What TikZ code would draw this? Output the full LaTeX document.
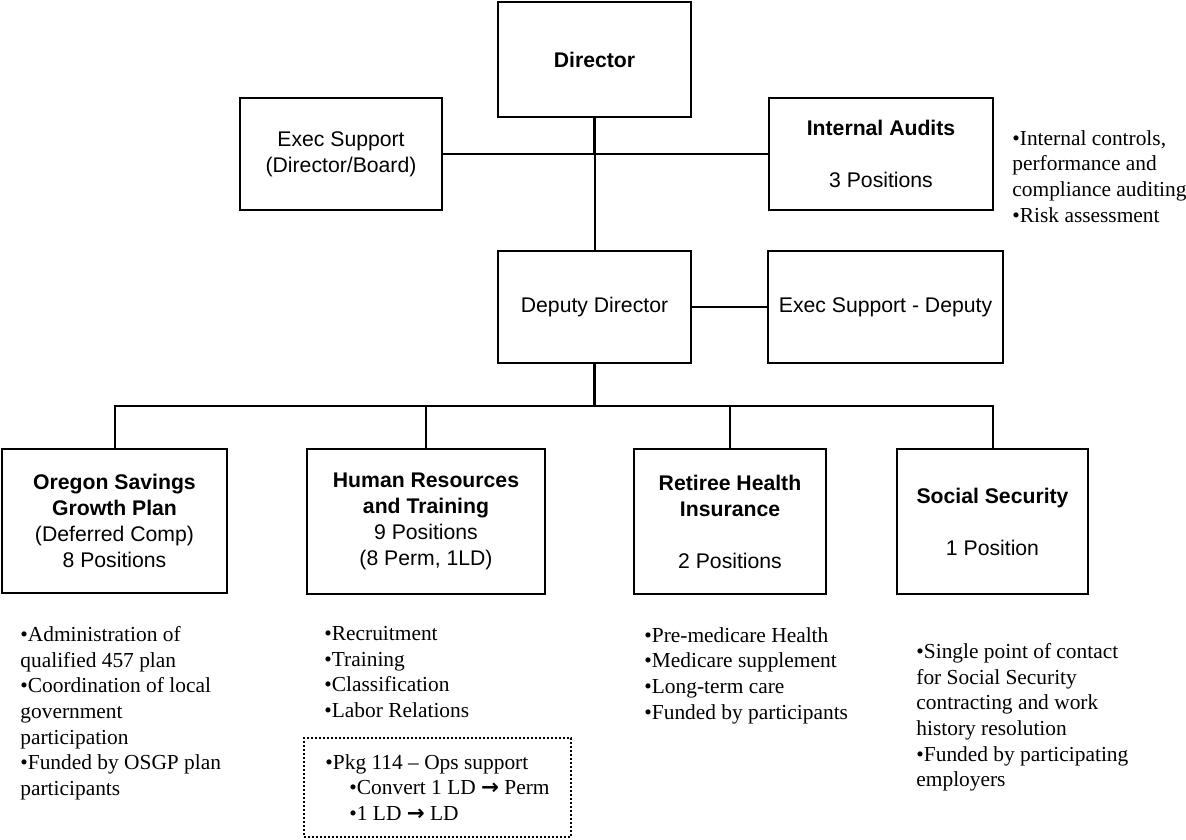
\documentclass[tikz,border=0pt]{standalone}
\usepackage{fontspec}
\setmainfont{Liberation Serif}
\setsansfont{Liberation Sans}
\newfontfamily\arrowfont{DejaVu Sans}
\newcommand{\ra}{{\arrowfont\bfseries →}}
\tikzset
{
    unitbox/.style = {rectangle, draw=black, line width=1pt, align=center, inner sep=0pt, font=\sffamily\fontsize{10.6}{13}\selectfont},
    notes/.style = {anchor=north west, align=left, inner sep=0pt, font=\fontsize{10.7}{12.85}\selectfont},
    pkgbox/.style = {rectangle, draw=black, line width=0.9pt, dash pattern=on 1pt off 1pt, align=left, inner sep=0pt, minimum width=133.5pt, minimum height=49.5pt, font=\fontsize{10.7}{12.85}\selectfont},
    link/.style = {line width=1pt},
    trunk/.style = {line width=1.5pt}
}
\begin{document}
\begin{tikzpicture}[x=0.5pt, y=-0.5pt]
\useasboundingbox (0,0) rectangle (1186,839);
% top levels
\node [unitbox, minimum width=96.5pt, minimum height=57.5pt] (director) at (594.5,59.5) {\textbf{Director}};
\node [unitbox, minimum width=101pt, minimum height=56pt] (execsup) at (341,154) {Exec Support\\(Director/Board)};
\node [unitbox, minimum width=112pt, minimum height=56pt] (audits) at (881,154) {\textbf{Internal Audits}\\[13pt]3 Positions};
\node [unitbox, minimum width=96.5pt, minimum height=56pt] (deputy) at (594.5,307) {Deputy Director};
\node [unitbox, minimum width=117.5pt, minimum height=55.5pt] (execdep) at (885.5,307) {Exec Support - Deputy};
% programs
\node [unitbox, minimum width=112.5pt, minimum height=72pt] (osgp) at (114.5,521) {\textbf{Oregon Savings}\\\textbf{Growth Plan}\\(Deferred Comp)\\8 Positions};
\node [unitbox, minimum width=119pt, minimum height=72.5pt] (hr) at (426,521.5) {\textbf{Human Resources}\\\textbf{and Training}\\9 Positions\\(8 Perm, 1LD)};
\node [unitbox, minimum width=96pt, minimum height=72.5pt] (rhi) at (730,521.5) {\textbf{Retiree Health}\\\textbf{Insurance}\\[13pt]2 Positions};
\node [unitbox, minimum width=95.5pt, minimum height=72.5pt] (ss) at (992.5,521.5) {\textbf{Social Security}\\[13pt]1 Position};
% duties
\node [notes] (auditnotes) at (1012,130) {•Internal controls,\\performance and\\compliance auditing\\•Risk assessment};
\node [notes] (osgpnotes) at (20,626) {•Administration of\\qualified 457 plan\\•Coordination of local\\government\\participation\\•Funded by OSGP plan\\participants};
\node [notes] (hrnotes) at (324,626) {•Recruitment\\•Training\\•Classification\\•Labor Relations};
\node [notes] (rhinotes) at (644,627) {•Pre-medicare Health\\•Medicare supplement\\•Long-term care\\•Funded by participants};
\node [notes] (ssnotes) at (916,643) {•Single point of contact\\for Social Security\\contracting and work\\history resolution\\•Funded by participating\\employers};
\node [pkgbox] (pkg) at (437.5,787.5) {•Pkg 114 – Ops support\\\hspace*{12pt}•Convert 1 LD \ra{} Perm\\\hspace*{12pt}•1 LD \ra{} LD};
% lines
\coordinate (hub) at (director.south |- execsup.east);
\coordinate (bus) at (594.5,406);
\draw [trunk] (director.south) -- (hub);
\draw [link] (hub) -- (deputy.north);
\draw [link] (execsup.east) -- (audits.west);
\draw [link] (deputy.east) -- (execdep.west);
\draw [trunk] (deputy.south) -- (bus);
\draw [link] (osgp.north) |- (ss.north |- bus) -- (ss.north);
\draw [link] (hr.north) -- (hr.north |- bus);
\draw [link] (rhi.north) -- (rhi.north |- bus);
\end{tikzpicture}
\end{document}
